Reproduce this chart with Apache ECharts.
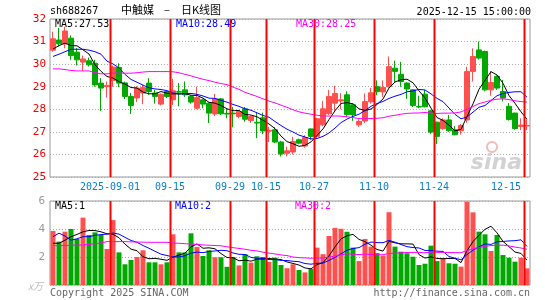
<!DOCTYPE html>
<html><head><meta charset="utf-8">
<script src="https://cdn.jsdelivr.net/npm/echarts@6/dist/echarts.min.js"></script>
<style>html,body{margin:0;padding:0;background:#fff}#c{width:545px;height:300px}</style>
</head><body><div id="c"></div>
<script>
const dates = ['08-18','08-19','08-20','08-21','08-22','08-25','08-26','08-27','08-28','08-29',
'09-01','09-02','09-03','09-04','09-05','09-08','09-09','09-10','09-11','09-12',
'09-15','09-16','09-17','09-18','09-19','09-22','09-23','09-24','09-25','09-26',
'09-29','09-30','10-09','10-10','10-13','10-14','10-15','10-16','10-17','10-20',
'10-21','10-22','10-23','10-24','10-27','10-28','10-29','10-30','10-31','11-03',
'11-04','11-05','11-06','11-07','11-10','11-11','11-12','11-13','11-14','11-17',
'11-18','11-19','11-20','11-21','11-24','11-25','11-26','11-27','11-28','12-01',
'12-02','12-03','12-04','12-05','12-08','12-09','12-10','12-11','12-12','12-15'];
const tickLabels = ['09-01','09-15','09-29','10-15','10-27','11-10','11-24','12-15'];
const opens = [30.62,31.07,30.90,31.15,30.53,30.09,30.15,30.04,29.16,29.00,
29.28,29.85,29.17,28.57,28.50,28.72,29.16,28.72,28.23,28.79,
28.42,28.78,28.86,28.57,28.05,28.42,28.27,27.79,28.46,27.82,
27.83,27.68,28.02,27.50,27.42,27.62,27.03,27.09,26.55,26.05,
26.11,26.65,26.37,27.13,26.80,27.31,27.80,28.27,28.37,28.64,
28.20,27.31,27.48,28.33,29.00,28.77,29.00,29.82,29.55,29.16,
28.86,28.12,28.67,27.93,27.43,27.14,27.53,27.09,27.05,27.53,
29.67,30.63,30.56,28.86,29.46,28.79,28.13,27.83,27.24,27.26];
const closes = [31.12,30.90,31.47,30.38,30.19,30.23,29.97,29.08,28.94,29.05,
29.87,29.16,28.57,28.17,28.94,28.96,28.79,28.57,28.67,28.57,
28.82,28.76,28.64,28.32,28.52,28.23,27.83,28.46,27.80,27.79,
27.80,27.90,27.56,27.68,27.39,27.04,27.07,26.55,26.02,26.16,
26.57,26.50,26.75,26.80,27.58,28.02,28.57,28.70,28.42,27.76,
27.76,27.46,28.34,28.73,28.78,28.97,29.89,29.68,29.23,28.90,
28.17,28.10,28.11,26.99,26.80,27.53,27.05,26.87,27.28,29.67,
30.34,30.27,28.86,29.19,28.94,28.50,27.55,27.15,27.30,27.28];
const lows = [30.55,30.78,30.70,30.19,29.94,29.70,29.90,29.00,27.93,28.52,
29.00,28.98,28.45,27.79,28.32,28.23,28.64,28.25,28.17,28.50,
28.20,28.13,28.55,28.25,28.00,28.05,27.39,27.70,27.75,27.60,
27.20,27.60,27.45,27.40,26.72,26.90,26.55,26.50,25.91,25.92,
26.00,26.45,26.30,26.65,26.72,27.25,27.75,27.90,28.00,27.65,
27.49,27.22,27.40,28.25,28.62,28.55,28.95,29.20,29.00,28.46,
28.10,28.05,28.08,26.90,26.46,27.10,27.00,26.85,26.88,27.40,
29.23,30.20,28.80,28.60,28.86,28.35,27.50,27.10,27.08,27.08];
const highs = [31.44,31.60,31.66,31.27,30.71,30.38,30.29,30.19,29.38,29.23,
29.94,30.04,29.23,28.72,29.02,29.08,29.38,28.85,28.70,28.85,
29.35,29.16,29.23,28.62,29.00,28.47,28.30,28.68,28.50,28.05,
28.10,27.95,28.10,27.72,27.85,27.85,27.22,27.20,26.60,26.35,
26.78,26.70,26.85,27.15,27.62,28.37,28.86,29.04,28.72,28.80,
28.25,27.55,28.70,28.95,29.28,29.28,30.34,30.15,30.10,29.20,
28.90,28.60,28.86,27.98,27.45,27.60,27.75,27.25,27.35,29.89,
30.70,31.00,30.60,29.70,29.50,29.30,28.28,27.85,27.60,27.55];
const volumes = [3.86,3.10,3.81,4.00,3.29,4.81,3.57,3.76,3.57,2.57,
4.64,2.33,1.48,1.79,2.00,2.48,1.62,1.62,1.48,1.62,
3.62,2.33,2.33,3.69,2.71,2.07,2.48,1.98,1.98,1.30,
2.00,1.40,2.20,1.60,2.05,2.00,1.65,1.95,1.43,1.20,
1.48,1.07,0.90,1.14,2.67,2.20,3.50,4.08,4.02,3.80,
2.67,1.71,3.29,2.74,2.28,2.10,5.20,2.74,2.38,2.27,
2.02,1.43,1.52,2.81,1.71,1.90,1.55,1.52,1.31,5.95,
5.19,3.81,3.62,2.43,3.57,2.14,1.95,1.67,1.95,1.19];
const ma5Head = [30.67,30.82,30.93,30.82];
const ma10Head = [30.34,30.44,30.55,30.66,30.66,30.66,30.62,30.55,30.44];
const ma30Head = [29.79,29.79,29.76,29.72,29.70,29.70,29.70,29.62,29.57,29.57,
29.60,29.60,29.60,29.60,29.62,29.65,29.67,29.67,29.67,29.67,
29.66,29.62,29.55,29.48,29.40,29.33,29.27,29.20,29.14];
const vma5Head = [2.98,2.98,3.20,3.45];
const vma10Head = [3.45,3.70,3.50,3.20,3.30,3.45,3.45,3.55,3.60];
const vma30Head = [2.81,2.81,2.82,2.84,2.85,2.86,2.90,2.95,3.00,3.10,
3.10,3.10,3.10,3.08,3.07,3.06,3.05,3.05,3.05,3.05,
3.00,2.98,2.95,2.92,2.90,2.86,2.84,2.82,2.80];
const priceMAText = ['MA5:27.53','MA10:28.49','MA30:28.25'];
const volMAText = ['MA5:1','MA10:2','MA30:2'];

function ma(arr, n, head){
  const out=[];
  for(let i=0;i<arr.length;i++){
    if(i<n-1){out.push(head[i]);continue;}
    let s=0; for(let j=i-n+1;j<=i;j++) s+=arr[j];
    out.push(+(s/n).toFixed(3));
  }
  return out;
}
const UP='#ff5050', DOWN='#00a800';
const kdata = dates.map((d,i)=>[opens[i],closes[i],lows[i],highs[i]]);
const vdata = volumes.map((v,i)=>({value:v,itemStyle:{color: closes[i]>=opens[i]?UP:DOWN}}));
const mono = '"DejaVu Sans Mono", "Liberation Mono", monospace';
const showIdx = (i,v)=>tickLabels.indexOf(v)>=0;
const sepIdx = tickLabels.map(t=>dates.indexOf(t));

// vertical separators at the left edge of each labelled day's slot, drawn on slot-boundary value axes
function sepSeries(xi, yi, y0, y1){
  return sepIdx.map(k=>({type:'line', xAxisIndex:xi, yAxisIndex:yi, data:[[k,y0],[k,y1]], symbol:'none',
      lineStyle:{color:'#ff0000', width:2}}));
}

const chart = echarts.init(document.getElementById('c'), null, {renderer:'canvas'});
function txt(x,y,text,color,opt){
  return Object.assign({type:'text', x:x, y:y, silent:true, z:100,
    style:Object.assign({text:text, fill:color, font:'10px '+mono, textAlign:'left', textVerticalAlign:'middle'}, opt||{})});
}
const half = 0.5/6;
chart.setOption({
  animation:false,
  grid:[
    {left:50, top:19, width:480, height:158, show:true, borderColor:'#999', borderWidth:1},
    {left:50, top:201, width:480, height:84, show:true, borderColor:'#999', borderWidth:1}
  ],
  xAxis:[
    {type:'category', gridIndex:0, data:dates, boundaryGap:true,
     axisLine:{show:false}, axisTick:{show:false},
     axisLabel:{interval:showIdx, color:'#0a80d0', fontFamily:mono, fontSize:10, margin:5, padding:[0,6,0,0],
       alignMaxLabel:'right',
       formatter:v=> v==='09-01' ? '2025-09-01' : v},
     splitLine:{show:false}},
    {type:'category', gridIndex:1, data:dates, boundaryGap:true,
     axisLine:{show:false}, axisTick:{show:false}, axisLabel:{show:false},
     splitLine:{show:false}},
    {type:'value', gridIndex:0, min:-half, max:dates.length-half, show:false},
    {type:'value', gridIndex:1, min:-half, max:dates.length-half, show:false}
  ],
  yAxis:[
    {type:'value', gridIndex:0, min:25, max:32, interval:1,
     axisLine:{show:false}, axisTick:{show:false},
     axisLabel:{color:'#ee0000', fontFamily:mono, fontSize:11, margin:4},
     splitLine:{show:true, lineStyle:{color:'#aaa', type:[1,2]}}},
    {type:'value', gridIndex:1, min:0, max:6, interval:2,
     axisLine:{show:false}, axisTick:{show:false},
     axisLabel:{color:'#999', fontFamily:mono, fontSize:11, margin:5, formatter:v=> v===0?'':String(v)},
     splitLine:{show:true, lineStyle:{color:'#aaa', type:[1,2]}}}
  ],
  series:[
    {type:'candlestick', xAxisIndex:0, yAxisIndex:0, data:kdata, barWidth:5,
     itemStyle:{color:UP, color0:DOWN, borderColor:UP, borderColor0:DOWN, borderWidth:1}},
    {type:'line', xAxisIndex:0, yAxisIndex:0, data:ma(closes,5,ma5Head), symbol:'none', lineStyle:{color:'#000', width:1}},
    {type:'line', xAxisIndex:0, yAxisIndex:0, data:ma(closes,10,ma10Head), symbol:'none', lineStyle:{color:'#0000ff', width:1}},
    {type:'line', xAxisIndex:0, yAxisIndex:0, data:ma(closes,30,ma30Head), symbol:'none', lineStyle:{color:'#ff00ff', width:1}},
    {type:'bar', xAxisIndex:1, yAxisIndex:1, data:vdata, barWidth:5},
    {type:'line', xAxisIndex:1, yAxisIndex:1, data:ma(volumes,5,vma5Head), symbol:'none', lineStyle:{color:'#000', width:1}},
    {type:'line', xAxisIndex:1, yAxisIndex:1, data:ma(volumes,10,vma10Head), symbol:'none', lineStyle:{color:'#0000ff', width:1}},
    {type:'line', xAxisIndex:1, yAxisIndex:1, data:ma(volumes,30,vma30Head), symbol:'none', lineStyle:{color:'#ff00ff', width:1}}
  ].concat(sepSeries(2,0,25,32), sepSeries(3,1,0,6)),
  graphic:[
    txt(50,11,'sh688267','#000'),
    txt(121,10,'中触媒','#000',{font:'11px "Noto Sans CJK SC"'}),
    txt(164,10,'–','#000',{font:'11px "Noto Sans CJK SC"'}),
    txt(181,10,'日K线图','#000',{font:'11px "Noto Sans CJK SC"'}),
    txt(531,12,'2025-12-15 15:00:00','#000',{textAlign:'right'}),
    txt(55,24.5,priceMAText[0],'#000'),
    txt(176,24.5,priceMAText[1],'#0000ff'),
    txt(296,24.5,priceMAText[2],'#ff00ff'),
    txt(55,206.5,volMAText[0],'#000'),
    txt(175,206.5,volMAText[1],'#0000ff'),
    txt(295,206.5,volMAText[2],'#ff00ff'),
    txt(28,286,'x万','#bbb',{font:'italic 10px "Noto Sans CJK SC"'}),
    txt(50,293,'Copyright 2025 SINA.COM','#666'),
    txt(530,293,'http://finance.sina.com.cn','#666',{textAlign:'right'}),
    {type:'circle', shape:{cx:492, cy:147, r:5}, style:{fill:'none', stroke:'#f3b8b8', lineWidth:2}, silent:true, z:1},
    txt(522,163,'sina','#d2d2d2',{textAlign:'right', font:'italic bold 22px "DejaVu Sans"'})
  ]
});
</script></body></html>
